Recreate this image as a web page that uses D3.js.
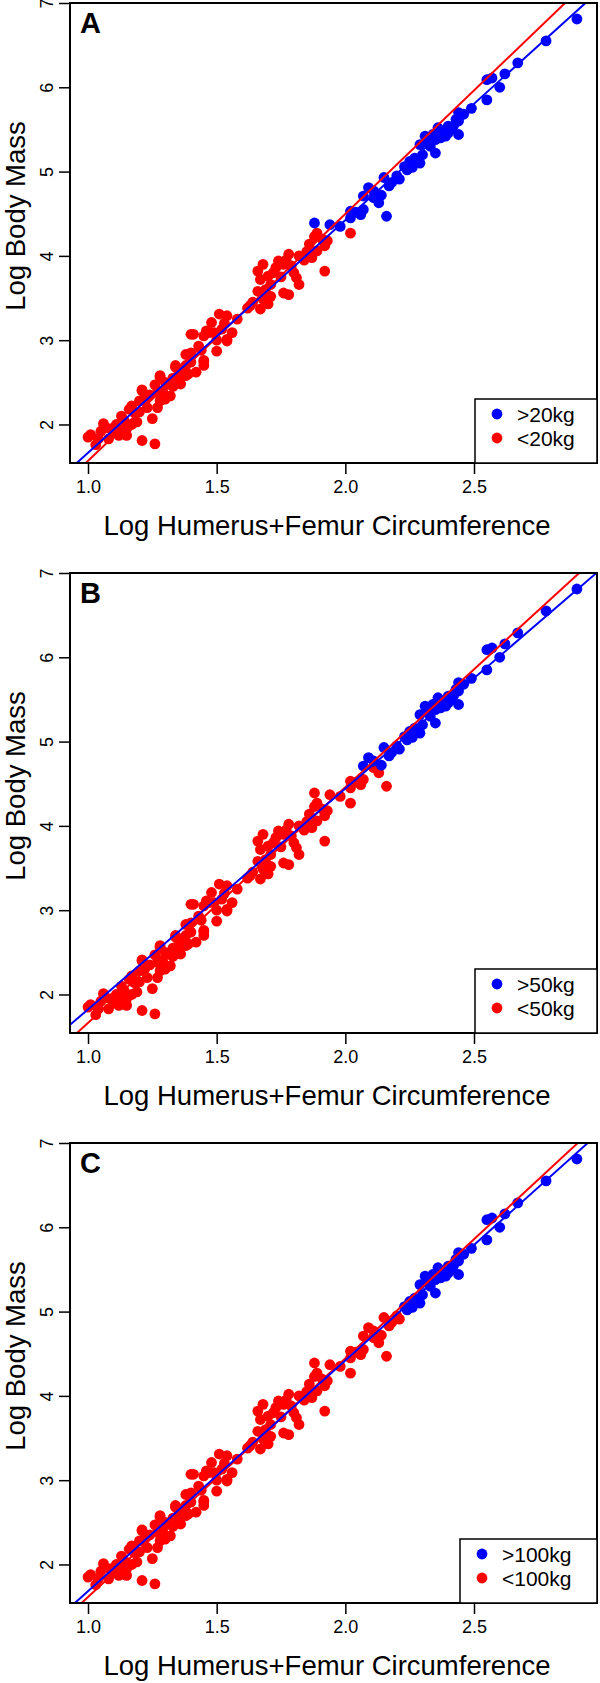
<!DOCTYPE html>
<html><head><meta charset="utf-8">
<script src="https://cdn.jsdelivr.net/npm/d3@7"></script>
<style>body{margin:0;background:#fff}svg{display:block}text{font-family:"Liberation Sans",Arial,Helvetica,sans-serif}</style>
</head><body><svg id="c" width="600" height="1683"></svg>
<script>
// Log Humerus+Femur Circumference
const logCirc = [
1.01,1.06,1.09,1.04,1.08,1.12,1.14,1.12,1.16,1.15,1.19,1.21,1.26,1.25,1.21,1.20,1.23,1.18,1.28,1.29,
1.32,1.28,1.34,1.36,1.31,1.38,1.40,1.45,1.42,1.41,1.43,1.47,1.03,1.00,1.05,1.10,1.11,1.13,1.17,1.17,
1.20,1.22,1.24,1.26,1.27,1.30,1.33,1.35,1.36,1.38,1.39,1.33,1.44,1.40,1.27,1.30,1.15,1.07,
1.46,1.48,1.45,1.50,1.45,1.45,1.52,1.54,1.54,1.56,1.49,1.63,1.67,1.68,1.66,1.71,1.67,1.66,1.70,1.73,
1.71,1.74,1.76,1.78,1.76,1.78,1.80,1.81,1.82,1.82,1.86,1.88,1.89,1.87,1.92,1.92,1.89,1.93,1.91,2.02,
1.50,1.53,1.58,1.64,1.69,1.72,1.75,1.68,1.79,1.84,1.85,1.77,1.70,1.62,1.51,1.54,1.40,1.38,1.34,1.28,1.21,
1.88,1.94,1.98,2.02,2.02,2.06,2.07,2.07,2.09,2.11,2.11,2.13,2.16,2.15,2.18,2.21,2.17,2.23,2.25,2.27,
2.29,2.24,2.29,2.31,2.35,2.35,2.34,2.36,2.40,2.42,2.44,2.90,2.78,2.67,2.62,2.55,2.57,2.60,2.55,2.49,
2.46,2.44,2.43,2.40,2.38,2.44,2.39,2.04,2.14,2.20,2.26,2.32,2.37,2.41,2.33,2.30
];
// Log Body Mass
const logMass = [
1.88,2.01,1.95,1.83,1.83,1.95,2.05,1.87,2.18,1.87,2.03,1.81,1.77,2.07,2.40,2.28,2.20,2.14,2.56,2.40,
2.34,2.28,2.68,2.48,2.48,2.83,2.74,2.74,2.62,3.07,2.93,3.09,1.76,1.85,1.92,1.90,2.00,2.10,2.00,2.22,
2.15,2.30,2.35,2.47,2.38,2.50,2.45,2.58,2.65,2.70,2.60,2.55,2.88,2.85,2.20,2.30,1.95,1.96,
3.11,3.21,3.05,2.87,2.76,2.70,3.13,3.29,3.01,3.09,3.09,3.41,3.37,3.49,3.58,3.52,3.72,3.82,3.76,3.86,
3.66,3.94,3.90,4.02,3.56,3.54,3.80,3.74,3.66,4.00,4.14,4.23,4.27,3.98,4.12,3.82,4.06,4.18,4.20,4.27,
3.00,3.20,3.25,3.45,3.60,3.80,3.75,3.90,3.88,3.95,4.05,3.95,3.43,3.38,3.31,2.99,3.07,2.58,2.70,2.58,2.41,
4.39,4.37,4.35,4.45,4.53,4.49,4.55,4.71,4.81,4.69,4.77,4.63,4.47,4.93,4.87,4.91,4.83,5.06,5.12,5.16,
5.10,5.02,5.32,5.42,5.38,5.22,5.44,5.52,5.46,5.54,5.60,6.81,6.55,6.29,6.16,6.09,6.11,6.00,5.85,5.75,
5.68,5.70,5.62,5.54,5.48,5.44,5.42,4.52,4.72,4.95,5.05,5.35,5.40,5.50,5.30,5.20
];
const panelLabels = ["A", "B", "C"];
const thresholds = [4.301, 4.699, 5.0];           // log10 of 20, 50, 100 kg in grams
const legendHigh = [">20kg", ">50kg", ">100kg"];
const legendLow = ["<20kg", "<50kg", "<100kg"];
const redFit = [[-1.362, 2.93], [-1.133, 2.796], [-1.216, 2.830]];   // [intercept, slope]
const blueFit = [[-1.096, 2.76], [-0.797, 2.62], [-1.055, 2.738]];
const xTicks = [1.0, 1.5, 2.0, 2.5];
const yTicks = [2, 3, 4, 5, 6, 7];
const xTitle = "Log Humerus+Femur Circumference";
const yTitle = "Log Body Mass";

const data = logCirc.map((d, i) => ({x: d, y: logMass[i]}));
const svg = d3.select("#c");
const L = 70, R = 597, T = 3, B = 463, STEP = 570;
const x = d3.scaleLinear().domain([0.930, 2.978]).range([L, R]);
const y = d3.scaleLinear().domain([1.543, 7.0]).range([B, T]);
const FONT = "Liberation Sans, Arial, sans-serif";

panelLabels.forEach((lab, k) => {
  const g = svg.append("g").attr("transform", `translate(0,${k * STEP})`);
  const cid = "clip" + k;
  g.append("clipPath").attr("id", cid).append("rect")
    .attr("x", L).attr("y", T).attr("width", R - L).attr("height", B - T);
  const th = thresholds[k];
  const pts = g.append("g");
  pts.selectAll("circle").data(data).join("circle")
    .attr("cx", d => x(d.x)).attr("cy", d => y(d.y)).attr("r", 5.4)
    .attr("fill", d => d.y > th ? "#0000ff" : "#ff0000");
  const xd = x.domain();
  const lineG = g.append("g").attr("clip-path", `url(#${cid})`);
  [[redFit[k], "#ff0000"], [blueFit[k], "#0000ff"]].forEach(([f, c]) => {
    lineG.append("line")
      .attr("x1", x(xd[0])).attr("y1", y(f[0] + f[1] * xd[0]))
      .attr("x2", x(xd[1])).attr("y2", y(f[0] + f[1] * xd[1]))
      .attr("stroke", c).attr("stroke-width", 2);
  });
  // axes
  const ax = g.append("g").attr("transform", `translate(0,${B})`)
    .call(d3.axisBottom(x).tickValues(xTicks).tickFormat(d3.format(".1f")).tickSize(11).tickPadding(6));
  ax.select(".domain").remove();
  ax.selectAll("line").attr("stroke-width", 1.5);
  ax.selectAll("text").attr("font-size", 18).attr("fill", "#000").style("font-family", FONT);
  const ay = g.append("g").attr("transform", `translate(${L},0)`)
    .call(d3.axisLeft(y).tickValues(yTicks).tickFormat(d3.format("d")).tickSize(11));
  ay.select(".domain").remove();
  ay.selectAll("line").attr("stroke-width", 1.5);
  ay.selectAll("text").attr("x", null).attr("dy", null).attr("text-anchor", "middle")
    .attr("transform", "translate(-17,0) rotate(-90)")
    .attr("font-size", 18).attr("fill", "#000").style("font-family", FONT);
  // box
  g.append("rect").attr("x", L).attr("y", T).attr("width", R - L).attr("height", B - T)
    .attr("fill", "none").attr("stroke", "#000").attr("stroke-width", 2);
  // titles
  g.append("text").attr("x", 327).attr("y", 535).attr("text-anchor", "middle")
    .attr("font-size", 27.5).text(xTitle);
  g.append("text").attr("transform", `translate(25,216) rotate(-90)`).attr("text-anchor", "middle")
    .attr("font-size", 27.5).text(yTitle);
  g.append("text").attr("x", 80).attr("y", 33).attr("font-size", 29).attr("font-weight", "bold").text(lab);
  // legend
  const lx = k === 2 ? 460 : 475;
  const lg = g.append("g");
  lg.append("rect").attr("x", lx).attr("y", 399).attr("width", R - lx).attr("height", B - 399)
    .attr("fill", "#fff").attr("stroke", "#000").attr("stroke-width", 1.5);
  [[legendHigh[k], "#0000ff", 414], [legendLow[k], "#ff0000", 438]].forEach(([t, c, yy]) => {
    lg.append("circle").attr("cx", lx + 22).attr("cy", yy).attr("r", 5.4).attr("fill", c);
    lg.append("text").attr("x", lx + 42).attr("y", yy + 7.5).attr("font-size", 21).text(t);
  });
});
</script></body></html>
